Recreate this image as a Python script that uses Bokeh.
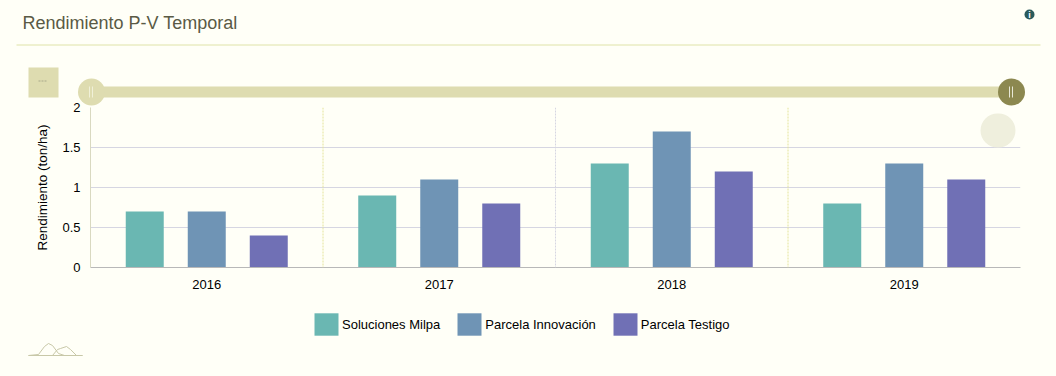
from bokeh.core.properties import value
from bokeh.embed import file_html
from bokeh.resources import INLINE
from bokeh.plotting import figure
from bokeh.models import (FactorRange, Range1d, FixedTicker, Span, BoxAnnotation,
                          Legend, LegendItem, ColumnDataSource)
from bokeh.transform import dodge

years = ["2016", "2017", "2018", "2019"]
soluciones = [0.7, 0.9, 1.3, 0.8]
innovacion = [0.7, 1.1, 1.7, 1.3]
testigo = [0.4, 0.8, 1.2, 1.1]
series_names = ["Soluciones Milpa", "Parcela Innovación", "Parcela Testigo"]
series_colors = ["#6ab7b2", "#6f94b5", "#7070b5"]
y_ticks = [0, 0.5, 1, 1.5, 2]
y_labels = {0: "0", 0.5: "0.5", 1: "1", 1.5: "1.5", 2: "2"}
title_text = "Rendimiento P-V Temporal"
y_title = "Rendimiento (ton/ha)"
FONT = "Liberation Sans"
BG = "#fffff7"
W = 1056


def strip(height, y0, y1, **kw):
    f = figure(width=W, height=height, output_backend="svg", toolbar_location=None,
               x_range=Range1d(0, W), y_range=Range1d(y1, y0),
               min_border=0, background_fill_color=None, border_fill_color=None,
               outline_line_color=None, **kw)
    f.axis.visible = False
    f.grid.visible = False
    return f


# header: title, rule, info icon, range slider
head = strip(107, 0, 107, margin=(0, 0, -8, 0))
head.text(x=[22], y=[22], text=[title_text], text_font=value(FONT), text_font_size="18px",
          text_color="#5a5a45", text_baseline="middle")
head.segment(x0=[16], y0=[44.5], x1=[1040], y1=[44.5], line_color="#dfe3a8", line_width=1)
head.circle(x=[1029], y=[14], radius=5, fill_color="#2a5a5c", line_color=None)
head.text(x=[1029], y=[14.5], text=["i"], text_font=value(FONT), text_font_size="9px", text_font_style="bold",
          text_color="#ffffff", text_align="center", text_baseline="middle")
head.quad(left=[28], right=[58], top=[67], bottom=[97], fill_color="#dedcb0", line_color=None)
head.segment(x0=[38], y0=[80.5], x1=[47], y1=[80.5], line_color="#a8a88a", line_width=1, line_dash="2 1")
head.quad(left=[91], right=[1011], top=[86], bottom=[97], fill_color="#dedcb0", line_color=None)
head.circle(x=[91], y=[91.5], radius=13.5, fill_color="#dedcb0", line_color=None)
head.circle(x=[1011], y=[91.5], radius=13.5, fill_color="#8c8850", line_color=None)
head.segment(x0=[89, 92], y0=[86, 86], x1=[89, 92], y1=[97, 97], line_color="#f0f0d8", line_width=1)
head.segment(x0=[1009, 1012], y0=[86, 86], x1=[1009, 1012], y1=[97, 97], line_color="#e8e8d8", line_width=1)

source = ColumnDataSource(dict(year=years, a=soluciones, b=innovacion, c=testigo))

p = figure(width=W, height=201, output_backend="svg", toolbar_location=None,
           x_range=FactorRange(factors=years, factor_padding=0, range_padding=0),
           y_range=Range1d(0, 2), frame_height=160, frame_width=930,
           min_border_left=90, min_border_right=36, min_border_top=8, min_border_bottom=33,
           background_fill_color=None, border_fill_color=None, outline_line_color=None)

offsets = [-0.2667, 0, 0.2667]
keys = ["a", "b", "c"]
for key, off, col in zip(keys, offsets, series_colors):
    p.vbar(x=dodge("year", off, range=p.x_range), top=key, width=0.1634, bottom=0,
           source=source, fill_color=col, line_color=None)

p.yaxis.ticker = FixedTicker(ticks=y_ticks)
p.yaxis.major_label_overrides = y_labels
p.yaxis.axis_label = y_title
p.yaxis.axis_label_text_font = FONT
p.yaxis.axis_label_text_font_size = "13.5px"
p.yaxis.axis_label_text_font_style = "normal"
p.yaxis.axis_label_text_color = "#000000"
p.yaxis.axis_label_standoff = 9
p.yaxis.major_label_text_font = FONT
p.yaxis.major_label_text_font_size = "13px"
p.yaxis.major_label_text_color = "#000000"
p.yaxis.major_tick_line_color = None
p.yaxis.minor_tick_line_color = None
p.yaxis.axis_line_color = "#d9d9c0"
p.yaxis.major_label_standoff = 4

p.xaxis.major_label_text_font = FONT
p.xaxis.major_label_text_font_size = "13px"
p.xaxis.major_label_text_color = "#000000"
p.xaxis.major_tick_line_color = None
p.xaxis.axis_line_color = "#b8b8b8"
p.xaxis.major_label_standoff = 6

p.ygrid.grid_line_color = "#d6d6e2"
p.xgrid.grid_line_color = None

for i, color in zip([1, 2, 3], ["#e4e49a", "#d6d6e2", "#e4e49a"]):
    p.add_layout(Span(location=i, dimension="height", line_color=color, line_dash="2 1", line_width=1))

p.add_layout(BoxAnnotation(left=890, right=925, top=154, bottom=120, left_units="screen", right_units="screen",
                           top_units="screen", bottom_units="screen", fill_color="#efefdd", fill_alpha=1,
                           line_color=None, border_radius=18))

# footer: legend and small mark
foot = strip(76, 300, 376)
items = []
for name, col in zip(series_names, series_colors):
    # off-canvas key glyph: the legend needs a renderer that has a row to draw its swatch from
    r = foot.quad(left=[-20], right=[-10], top=[310], bottom=[300], fill_color=col, line_color=None)
    items.append(LegendItem(label=name, renderers=[r]))
legend = Legend(items=items, orientation="horizontal", location=(311, 38),
                glyph_width=30, glyph_height=28, label_standoff=1, spacing=14,
                padding=0, margin=0, border_line_color=None, background_fill_alpha=0,
                label_text_font=FONT, label_text_font_size="13px", label_text_color="#000000")
foot.add_layout(legend, "center")
foot.line(x=[28, 82], y=[355, 355], line_color="#c8c8a8", line_width=1)
foot.line(x=[28, 38, 44, 48, 52, 58, 64], y=[355, 354, 346, 343, 345, 353, 355], line_color="#c8c8a8", line_width=1)
foot.line(x=[52, 57, 60, 66, 70, 76, 82], y=[355, 349, 348, 346, 349, 355, 355], line_color="#c8c8a8", line_width=1)

html = file_html([head, p, foot], INLINE)
html = html.replace("<head>", "<head><style>html,body{background:%s;margin:0}</style>" % BG, 1)
open("out.html", "w").write(html)
